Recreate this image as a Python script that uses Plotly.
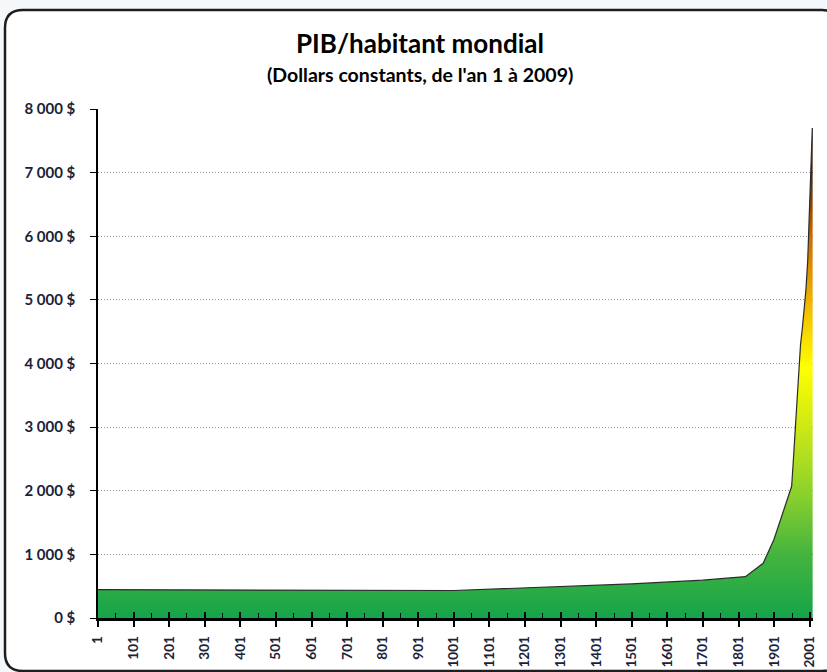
import plotly.graph_objects as go

# ---- data ----
years = [1, 1000, 1500, 1600, 1700, 1820, 1870, 1900, 1913, 1950, 1955, 1960,
         1965, 1970, 1975, 1980, 1985, 1990, 1995, 2000, 2003, 2005, 2007, 2008, 2009]
gdp_per_capita = [445, 432, 535, 565, 595, 650, 860, 1230, 1440, 2070, 2500, 2950,
                  3450, 3900, 4300, 4550, 4850, 5150, 5600, 6400, 6900, 7250, 7600, 7700, 7680]
tick_years = list(range(1, 2002, 100))
tick_labels = [str(v) for v in tick_years]
y_ticks = list(range(0, 8001, 1000))
y_tick_labels = [f"{v // 1000} 000 $" if v else "0 $" for v in y_ticks]

title = "PIB/habitant mondial"
subtitle = "(Dollars constants, de l'an 1 à 2009)"

# ---- geometry ----
W, H = 827, 672
ML, MR, MT, MB = 98, 14, 109, 54
PW, PH = W - ML - MR, H - MT - MB

def px(x):
    return (x - ML) / PW

def py(y):
    return (H - MB - y) / PH

FONT = "Lato, 'Open Sans', sans-serif"
TXT = "#1a2238"

fig = go.Figure()
fig.add_trace(go.Scatter(
    x=years, y=gdp_per_capita, mode="lines", fill="tozeroy",
    line=dict(color="#2b2b2b", width=1.2),
    fillgradient=dict(
        type="vertical", start=0, stop=7700,
        colorscale=[[0.0, "#15a44a"], [0.13, "#45b43f"], [0.26, "#8fd22b"],
                    [0.40, "#d2ea14"], [0.51, "#ffff00"], [0.64, "#f2b800"],
                    [0.78, "#cc6a00"], [0.90, "#5a2600"], [1.0, "#000000"]]),
    hoverinfo="x+y", showlegend=False,
))
# dummy trace for overlay axis (cross ticks)
fig.add_trace(go.Scatter(x=[None], y=[None], xaxis="x2", showlegend=False, hoverinfo="skip"))

# rounded chart-area border
L, R, T, B, r = 5, 840, 10, 671, 18
path = (f"M {px(L)},{py(T + r)} Q {px(L)},{py(T)} {px(L + r)},{py(T)} "
        f"L {px(R - r)},{py(T)} Q {px(R)},{py(T)} {px(R)},{py(T + r)} "
        f"L {px(R)},{py(B - r)} Q {px(R)},{py(B)} {px(R - r)},{py(B)} "
        f"L {px(L + r)},{py(B)} Q {px(L)},{py(B)} {px(L)},{py(B - r)} Z")
fig.add_shape(type="path", path=path, xref="paper", yref="paper",
              line=dict(color="#1e1e1e", width=2.5), fillcolor="white", layer="below")

fig.add_annotation(text=f"<b>{title}</b>", x=px(420), y=py(43), xref="paper", yref="paper",
                   showarrow=False, font=dict(family=FONT, size=26, color="black"),
                   xanchor="center", yanchor="middle")
fig.add_annotation(text=f"<b>{subtitle}</b>", x=px(420), y=py(75), xref="paper", yref="paper",
                   showarrow=False, font=dict(family=FONT, size=19.5, color="black"),
                   xanchor="center", yanchor="middle")

xrange = [1, 2010]
fig.update_layout(
    width=W, height=H,
    margin=dict(l=ML, r=MR, t=MT, b=MB, pad=0),
    paper_bgcolor="#f4f8fb", plot_bgcolor="white",
    xaxis=dict(range=xrange, tickmode="array", tickvals=tick_years, ticktext=tick_labels,
               tickangle=-90, ticks="outside", ticklen=6, tickwidth=1.5, tickcolor="black",
               ticklabelstandoff=4, automargin=False,
               showline=True, linecolor="black", linewidth=2.5, showgrid=False, zeroline=False,
               tickfont=dict(family=FONT, size=13.5, color=TXT, weight="bold"),
               minor=dict(tickmode="linear", tick0=51, dtick=100, ticks="inside",
                          ticklen=5, tickcolor="black", tickwidth=1.2, showgrid=False)),
    xaxis2=dict(range=xrange, overlaying="x", anchor="y", side="bottom",
                tickmode="array", tickvals=tick_years, ticks="inside", ticklen=6,
                tickwidth=1.5, tickcolor="black", showticklabels=False,
                showline=False, showgrid=False, zeroline=False),
    yaxis=dict(range=[0, 8000], tickmode="array", tickvals=y_ticks, ticktext=y_tick_labels,
               ticks="outside", ticklen=6, tickcolor="black", tickwidth=1.2,
               ticklabelstandoff=12, automargin=False,
               showline=True, linecolor="black", linewidth=1.5,
               showgrid=True, gridcolor="#9a9a9a", griddash="1px,2px", gridwidth=1,
               zeroline=False,
               tickfont=dict(family=FONT, size=15, color=TXT, weight="bold")),
    showlegend=False,
)

fig.write_html("out.html", config={"displayModeBar": False},
               post_script="document.body.style.margin='0';document.body.style.overflow='hidden';")
